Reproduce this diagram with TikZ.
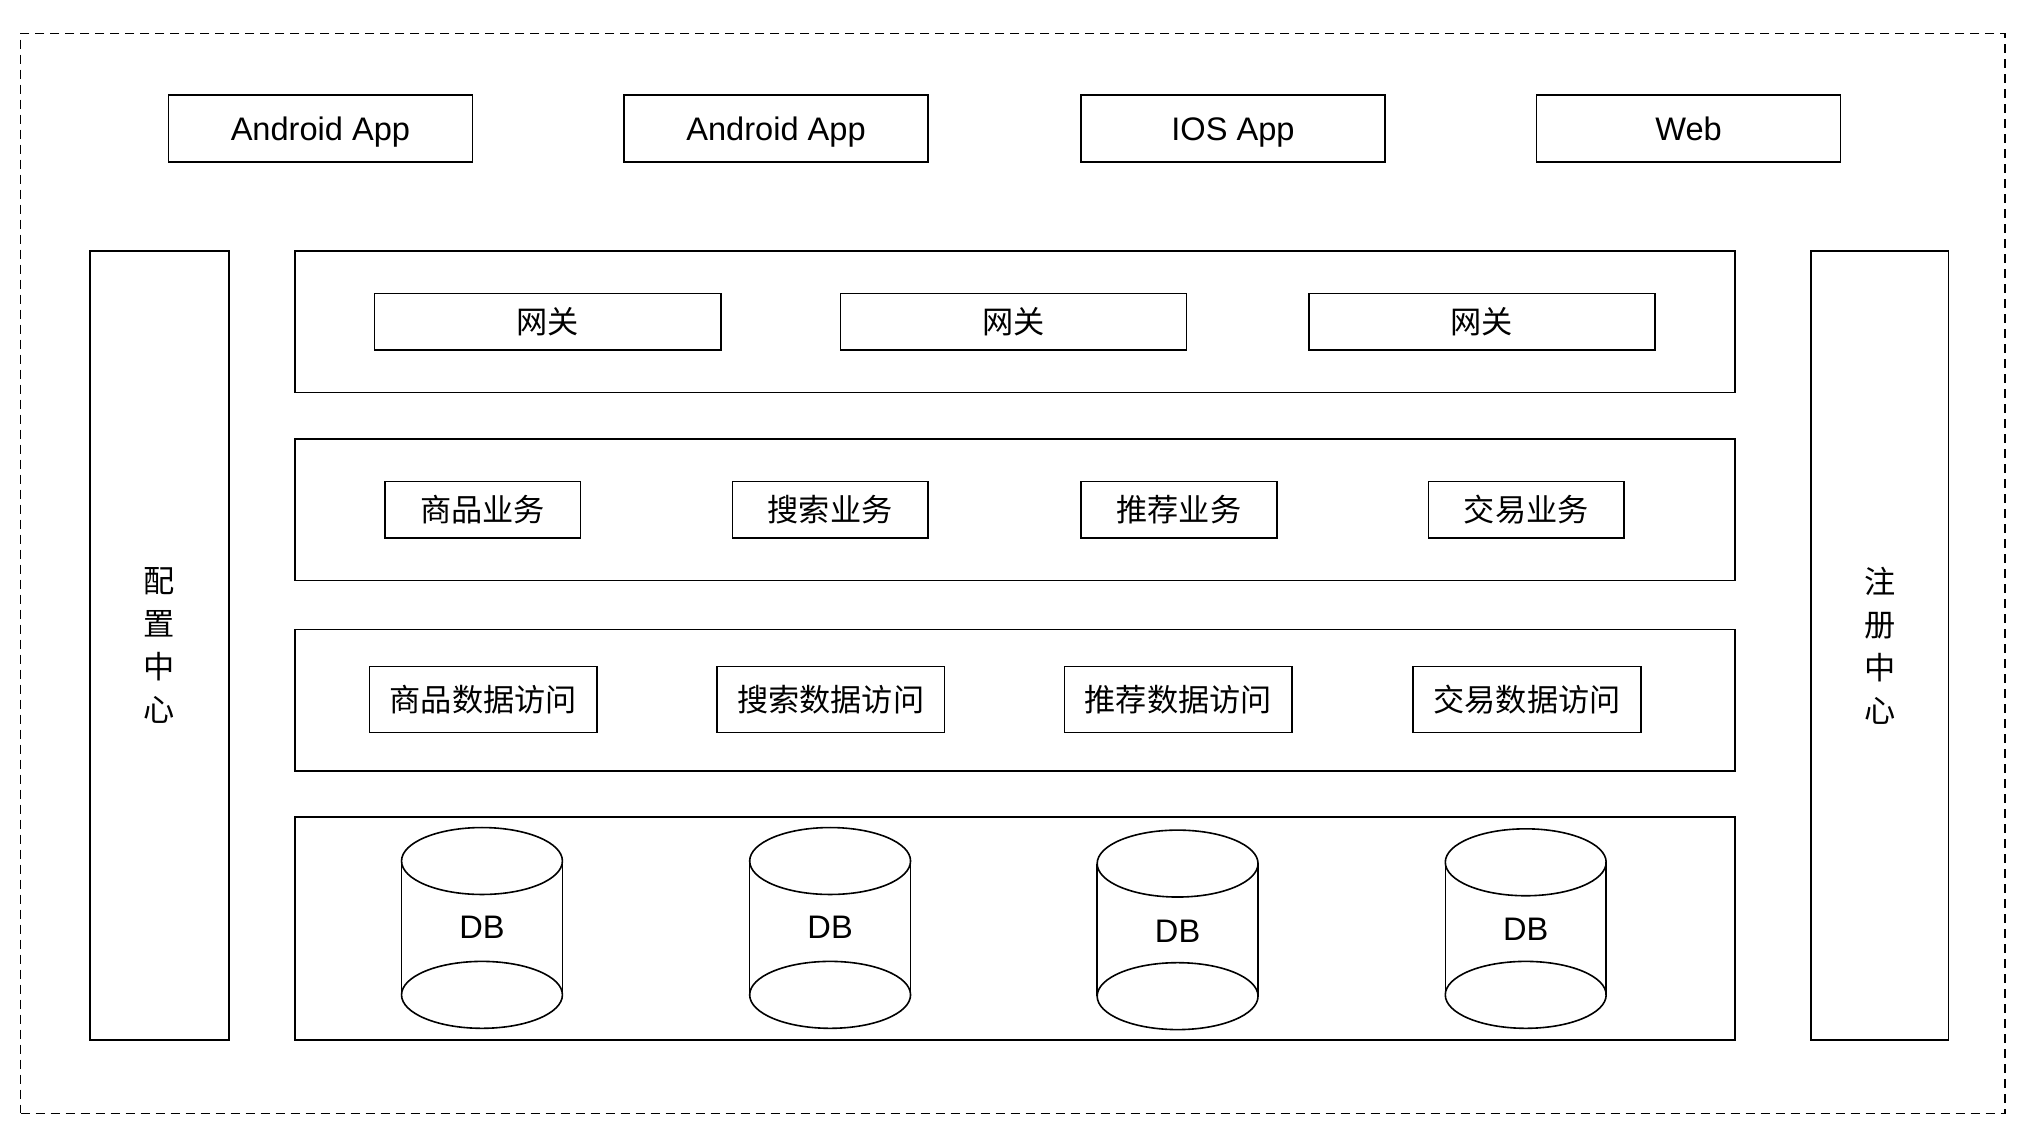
\documentclass[tikz,border=0pt]{standalone}
\usepackage{fontspec}
\setmainfont{Liberation Sans}
\newfontfamily\cjk{Noto Sans CJK SC}
\def\pxu{0.6435pt}
\tikzset{
  box/.style={draw, line width=0.8pt, inner sep=0pt, text height=11.6pt, text depth=0pt, font=\fontsize{16.3}{19}\selectfont},
  cbox/.style={draw, line width=0.8pt, inner sep=0pt, align=center, font=\cjk\fontsize{15.6}{21.5}\selectfont},
  layer/.style={draw, line width=0.8pt, inner sep=0pt},
  outer/.style={draw, dash pattern=on 4.5pt off 3pt, line width=0.7pt, inner sep=0pt},
  cyl/.style={draw, line width=0.8pt},
  dbtext/.style={inner sep=0pt, text height=11.6pt, text depth=0pt, font=\fontsize{16.3}{19}\selectfont},
}
% style, name, x1, y1, x2, y2, text
\newcommand{\mybox}[7]{%
  \node[#1, minimum width={(#5-#3)*\pxu}, minimum height={(#6-#4)*\pxu}] (#2) at ({(#3+#5)/2},{(#4+#6)/2}) {#7};}
% name, cx, ytop, ybot, texty
\newcommand{\mycyl}[5]{%
  \draw[cyl] (#2,#3) ellipse [x radius={62.5*\pxu}, y radius={26*\pxu}];
  \draw[cyl] (#2,#4) ellipse [x radius={62.5*\pxu}, y radius={26*\pxu}];
  \draw[cyl] ({#2-62.5},#3) -- ({#2-62.5},#4);
  \draw[cyl] ({#2+62.5},#3) -- ({#2+62.5},#4);
  \node[dbtext] (#1) at (#2,#5) {DB};}
\begin{document}
\begin{tikzpicture}[x=\pxu, y=-\pxu]
\useasboundingbox (0,0) rectangle (1568,882.68);
% outer dashed frame
\mybox{outer}{frame}{16}{26}{1558}{865}{}
% clients
\mybox{box}{app1}{131}{74}{367}{126}{Android App}
\mybox{box}{app2}{485}{74}{721}{126}{Android App}
\mybox{box}{app3}{840}{74}{1076}{126}{IOS App}
\mybox{box}{app4}{1194}{74}{1430}{126}{Web}
% side columns
\mybox{cbox}{config}{70}{195}{178}{808}{配\\置\\中\\心}
\mybox{cbox}{registry}{1407}{195}{1514}{808}{注\\册\\中\\心}
% layers
\mybox{layer}{gwlayer}{229}{195}{1348}{305}{}
\mybox{layer}{bizlayer}{229}{341}{1348}{451}{}
\mybox{layer}{dalayer}{229}{489}{1348}{599}{}
\mybox{layer}{dblayer}{229}{635}{1348}{808}{}
% gateways
\mybox{cbox}{gw1}{291}{228}{560}{272}{网关}
\mybox{cbox}{gw2}{653}{228}{922}{272}{网关}
\mybox{cbox}{gw3}{1017}{228}{1286}{272}{网关}
% business
\mybox{cbox}{biz1}{299}{374}{451}{418}{商品业务}
\mybox{cbox}{biz2}{569}{374}{721}{418}{搜索业务}
\mybox{cbox}{biz3}{840}{374}{992}{418}{推荐业务}
\mybox{cbox}{biz4}{1110}{374}{1262}{418}{交易业务}
% data access
\mybox{cbox}{da1}{287}{518}{464}{569}{商品数据访问}
\mybox{cbox}{da2}{557}{518}{734}{569}{搜索数据访问}
\mybox{cbox}{da3}{827}{518}{1004}{569}{推荐数据访问}
\mybox{cbox}{da4}{1098}{518}{1275}{569}{交易数据访问}
% databases
\mycyl{db1}{374.5}{669}{773}{720}
\mycyl{db2}{645}{669}{773}{720}
\mycyl{db3}{915}{671}{774}{723}
\mycyl{db4}{1185.5}{670}{773}{722}
\end{tikzpicture}
\end{document}
